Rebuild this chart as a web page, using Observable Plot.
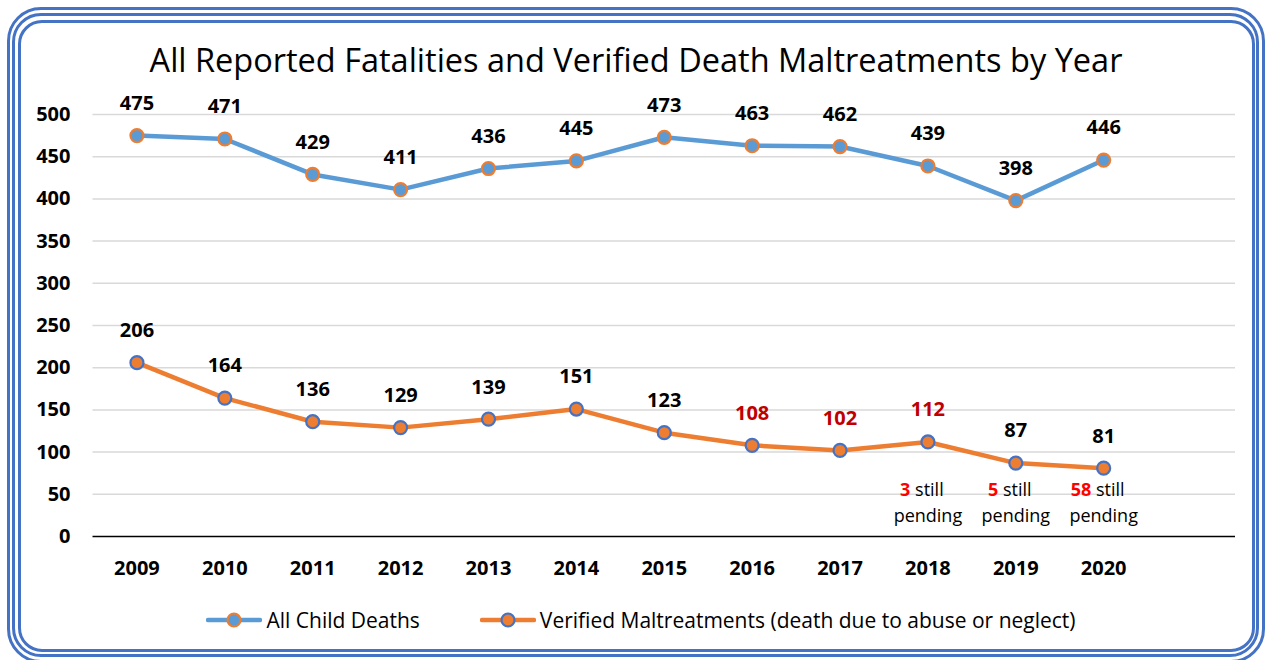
<!DOCTYPE html>
<html>
<head>
<meta charset="utf-8">
<script src="https://cdn.jsdelivr.net/npm/d3@7"></script>
<script src="https://cdn.jsdelivr.net/npm/@observablehq/plot@0.6"></script>
<style>
  html, body { margin: 0; padding: 0; background: #fff; }
  #wrap { position: relative; width: 1267px; height: 660px; overflow: hidden; background: #fff; font-family: "Open Sans", Lato, sans-serif; }
  .bd { position: absolute; border: 3px solid #4472C4; box-sizing: border-box; }
  #title { position: absolute; left: 0; width: 1272px; top: 38px; line-height: 1.362; text-align: center; font-size: 32.5px; color: #000; white-space: nowrap; }
  #chart { position: absolute; left: 0; top: 90px; }
  #legend { position: absolute; left: 0; width: 1282px; top: 606px; height: 28px; display: flex; justify-content: center; align-items: center; gap: 60px; font-size: 21px; color: #000; }
  .item { display: flex; align-items: center; gap: 4px; white-space: nowrap; }
</style>
</head>
<body>
<div id="wrap">
  <div class="bd" style="left:7px; top:7px; width:1258px; height:656px; border-radius:34px;"></div>
  <div class="bd" style="left:12px; top:13px; width:1247px; height:644px; border-radius:29px;"></div>
  <div class="bd" style="left:18px; top:20px; width:1237px; height:632px; border-radius:24px;"></div>
  <div id="title">All Reported Fatalities and Verified Death Maltreatments by Year</div>
  <div id="chart"></div>
  <div id="legend"></div>
</div>
<script>
const years = [2009, 2010, 2011, 2012, 2013, 2014, 2015, 2016, 2017, 2018, 2019, 2020];
const allChildDeaths = [475, 471, 429, 411, 436, 445, 473, 463, 462, 439, 398, 446];
const verifiedMaltreatments = [206, 164, 136, 129, 139, 151, 123, 108, 102, 112, 87, 81];
const redLabelYears = [2016, 2017, 2018];
const pendingYears = [2018, 2019, 2020];
const pendingCounts = [3, 5, 58];
const yTicks = [0, 50, 100, 150, 200, 250, 300, 350, 400, 450, 500];
const seriesNames = ["All Child Deaths", "Verified Maltreatments (death due to abuse or neglect)"];

const BLUE = "#5B9BD5", ORANGE = "#ED7D31", DARKBLUE = "#4472C4", DARKRED = "#C00000";
const FONT = "'Open Sans', Lato, sans-serif";

const allData = years.map((y, i) => ({year: y, value: allChildDeaths[i]}));
const verData = years.map((y, i) => ({year: y, value: verifiedMaltreatments[i]}));
const pendData = pendingYears.map((y, i) => ({year: y, count: pendingCounts[i]}));

const chart = Plot.plot({
  width: 1267,
  height: 500,
  marginTop: 24,
  marginBottom: 54,
  marginLeft: 92.5,
  marginRight: 32,
  style: {fontFamily: FONT, background: "transparent", overflow: "visible"},
  x: {type: "linear", domain: [2008.5, 2021.5], axis: null},
  y: {domain: [0, 500], axis: null},
  marks: [
    Plot.ruleY(yTicks.filter(d => d > 0), {stroke: "#D9D9D9", strokeWidth: 1.5}),
    Plot.ruleY([0], {stroke: "#000", strokeWidth: 1.5}),
    Plot.text(yTicks, {frameAnchor: "left", y: d => d, text: d => String(d), textAnchor: "end", dx: -22.5, fontSize: 20, fontWeight: "bold", fill: "#000", lineAnchor: "middle"}),
    Plot.text(years, {x: d => d, frameAnchor: "bottom", text: d => String(d), dy: 32, fontSize: 20, fontWeight: "bold", fill: "#000", lineAnchor: "middle"}),
    Plot.line(allData, {x: "year", y: "value", stroke: BLUE, strokeWidth: 4.5}),
    Plot.dot(allData, {x: "year", y: "value", r: 6.5, fill: BLUE, stroke: ORANGE, strokeWidth: 2.2}),
    Plot.line(verData, {x: "year", y: "value", stroke: ORANGE, strokeWidth: 4.5}),
    Plot.dot(verData, {x: "year", y: "value", r: 6.5, fill: ORANGE, stroke: DARKBLUE, strokeWidth: 2.2}),
    Plot.text(allData, {x: "year", y: "value", text: d => String(d.value), dy: -32, fontSize: 20, fontWeight: "bold", fill: "#000", lineAnchor: "middle"}),
    Plot.text(verData, {x: "year", y: "value", text: d => String(d.value), dy: -32, fontSize: 20, fontWeight: "bold", fill: d => redLabelYears.includes(d.year) ? DARKRED : "#000", lineAnchor: "middle"}),
    Plot.text(pendData, {x: "year", frameAnchor: "bottom", text: d => d.count + " still", dy: -46, dx: -6, fontSize: 18, fill: "#000", lineAnchor: "middle"}),
    Plot.text(pendData, {x: "year", frameAnchor: "bottom", text: d => "pending", dy: -20, dx: 0, fontSize: 18, fill: "#000", lineAnchor: "middle"})
  ]
});
document.getElementById("chart").appendChild(chart);

// Mixed styling: red bold count followed by regular " still"
d3.select(chart).selectAll("text").each(function() {
  const t = d3.select(this);
  const s = t.text();
  const m = /^(\d+)( still)$/.exec(s);
  if (!m) return;
  t.text(null);
  t.append("tspan").attr("fill", "#FF0000").attr("font-weight", "bold").text(m[1]);
  t.append("tspan").text(m[2]);
});

// Legend
const legend = d3.select("#legend");
const styles = [
  {line: BLUE, fill: BLUE, stroke: ORANGE},
  {line: ORANGE, fill: ORANGE, stroke: DARKBLUE}
];
seriesNames.forEach((name, i) => {
  const item = legend.append("div").attr("class", "item");
  const sw = item.append("svg").attr("width", 56).attr("height", 20);
  sw.append("line").attr("x1", 2).attr("x2", 54).attr("y1", 10).attr("y2", 10)
    .attr("stroke", styles[i].line).attr("stroke-width", 4.5).attr("stroke-linecap", "round");
  sw.append("circle").attr("cx", 28).attr("cy", 10).attr("r", 6.5)
    .attr("fill", styles[i].fill).attr("stroke", styles[i].stroke).attr("stroke-width", 2.2);
  item.append("span").text(name);
});
</script>
</body>
</html>
